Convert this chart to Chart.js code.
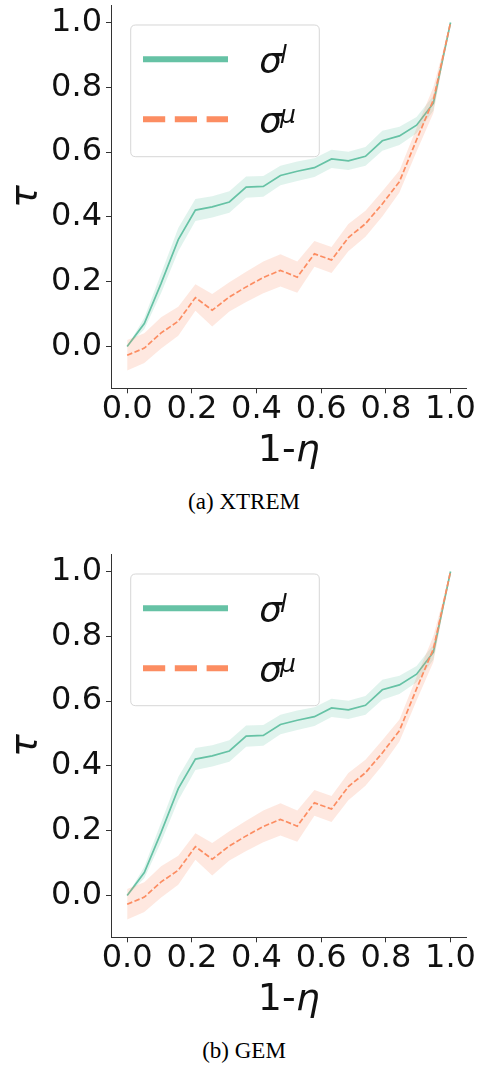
<!DOCTYPE html>
<html>
<head>
<meta charset="utf-8">
<script src="https://cdn.jsdelivr.net/npm/chart.js@4.4.1/dist/chart.umd.min.js"></script>
<style>
  html, body { margin: 0; padding: 0; background: #fff; overflow: hidden; }
  .panel { position: absolute; left: 0; width: 481px; height: 517px; }
  .plot { position: absolute; left: 0; top: 0; width: 481px; height: 475px; }
  .caption {
    position: absolute; left: 7px; width: 474px; top: 490px;
    text-align: center; font-family: "Liberation Serif", "Times New Roman", serif;
    font-size: 23px; line-height: 24px; color: #000;
  }
</style>
</head>
<body>
<div class="panel" style="top:0">
  <div class="plot"><canvas id="chartXtrem"></canvas></div>
  <div class="caption">(a) XTREM</div>
</div>
<div class="panel" style="top:549px">
  <div class="plot"><canvas id="chartGem"></canvas></div>
  <div class="caption">(b) GEM</div>
</div>
<script>
// 1 - eta (x positions of the 20 samples)
const oneMinusEta = [0.000, 0.053, 0.105, 0.158, 0.211, 0.263, 0.316, 0.368, 0.421, 0.474,
                     0.526, 0.579, 0.632, 0.684, 0.737, 0.789, 0.842, 0.895, 0.947, 1.000];

// tau for sigma^l (solid green) and its band half-width
const sigmaL    = [0.000, 0.071, 0.195, 0.330, 0.421, 0.431, 0.446, 0.492, 0.494, 0.528,
                   0.541, 0.552, 0.579, 0.573, 0.587, 0.635, 0.650, 0.683, 0.751, 1.000];
const sigmaLErr = [0.000, 0.018, 0.030, 0.036, 0.034, 0.033, 0.033, 0.033, 0.032, 0.030,
                   0.030, 0.029, 0.028, 0.028, 0.029, 0.031, 0.028, 0.025, 0.023, 0.000];

// tau for sigma^mu (dashed orange) and its band half-width
const sigmaMu    = [-0.027, -0.005, 0.042, 0.078, 0.151, 0.112, 0.153, 0.184, 0.213, 0.235,
                    0.214, 0.286, 0.267, 0.336, 0.379, 0.440, 0.509, 0.638, 0.761, 1.000];
const sigmaMuErr = [0.047, 0.046, 0.048, 0.045, 0.041, 0.050, 0.045, 0.047, 0.049, 0.050,
                    0.048, 0.040, 0.040, 0.042, 0.040, 0.039, 0.034, 0.036, 0.040, 0.000];

const xTicks = [0.0, 0.2, 0.4, 0.6, 0.8, 1.0];
const yTicks = [0.0, 0.2, 0.4, 0.6, 0.8, 1.0];

const legendNames = ['σ', 'σ'];
const legendSups = ['l', 'μ'];

const GREEN = '#66c2a5';
const ORANGE = '#fc8d62';
const GREEN_BAND = 'rgba(102,194,165,0.2)';
const ORANGE_BAND = 'rgba(252,141,98,0.2)';
const INK = '#111';
const AXIS = '#333';

function points(ys) {
    return ys.map((y, i) => ({ x: oneMinusEta[i], y: y }));
}

function offsetPoints(ys, errs, sign) {
    return ys.map((y, i) => ({ x: oneMinusEta[i], y: y + sign * errs[i] }));
}

function buildDatasets() {
    // index 0 is drawn last (on top)
    return [
        { data: points(sigmaMu), borderColor: ORANGE, borderWidth: 1.7, borderDash: [5.5, 2.4],
          pointRadius: 0, fill: false, tension: 0 },
        { data: offsetPoints(sigmaMu, sigmaMuErr, 1), borderWidth: 0, pointRadius: 0,
          fill: '+1', backgroundColor: ORANGE_BAND },
        { data: offsetPoints(sigmaMu, sigmaMuErr, -1), borderWidth: 0, pointRadius: 0, fill: false },
        { data: points(sigmaL), borderColor: GREEN, borderWidth: 1.7,
          pointRadius: 0, fill: false, tension: 0 },
        { data: offsetPoints(sigmaL, sigmaLErr, 1), borderWidth: 0, pointRadius: 0,
          fill: '+1', backgroundColor: GREEN_BAND },
        { data: offsetPoints(sigmaL, sigmaLErr, -1), borderWidth: 0, pointRadius: 0, fill: false }
    ];
}

// x title with mixed upright / italic text, and the matplotlib style legend
const mathText = {
    id: 'mathText',
    afterDraw(chart) {
        const ctx = chart.ctx;
        const ca = chart.chartArea;

        // x axis title "1-η"
        ctx.save();
        ctx.fillStyle = INK;
        ctx.textBaseline = 'alphabetic';
        ctx.textAlign = 'left';
        const upright = '38px "DejaVu Sans"';
        const italic = 'italic 38px "DejaVu Sans"';
        ctx.font = upright;
        const w1 = ctx.measureText('1-').width;
        ctx.font = italic;
        const w2 = ctx.measureText('η').width;
        const cx = (ca.left + ca.right) / 2;
        const base = ca.bottom + 72.7;
        ctx.font = upright;
        ctx.fillText('1-', cx - (w1 + w2) / 2, base);
        ctx.font = italic;
        ctx.fillText('η', cx - (w1 + w2) / 2 + w1, base);
        ctx.restore();

        // legend
        const bx = ca.left + 19.7, by = ca.top + 20, bw = 188.6, bh = 131.7, r = 5;
        ctx.save();
        ctx.beginPath();
        ctx.moveTo(bx + r, by);
        ctx.lineTo(bx + bw - r, by);
        ctx.quadraticCurveTo(bx + bw, by, bx + bw, by + r);
        ctx.lineTo(bx + bw, by + bh - r);
        ctx.quadraticCurveTo(bx + bw, by + bh, bx + bw - r, by + bh);
        ctx.lineTo(bx + r, by + bh);
        ctx.quadraticCurveTo(bx, by + bh, bx, by + bh - r);
        ctx.lineTo(bx, by + r);
        ctx.quadraticCurveTo(bx, by, bx + r, by);
        ctx.closePath();
        ctx.fillStyle = 'rgba(255,255,255,0.8)';
        ctx.fill();
        ctx.strokeStyle = 'rgba(204,204,204,0.8)';
        ctx.lineWidth = 1;
        ctx.stroke();

        const rows = [
            { color: GREEN, dash: [] },
            { color: ORANGE, dash: [22.2, 9.6] }
        ];
        rows.forEach((row, i) => {
            const ly = by + 34.3 + i * 60;
            ctx.beginPath();
            ctx.setLineDash(row.dash);
            ctx.lineCap = 'butt';
            ctx.strokeStyle = row.color;
            ctx.lineWidth = 6;
            ctx.moveTo(bx + 12.3, ly);
            ctx.lineTo(bx + 97.3, ly);
            ctx.stroke();
            ctx.setLineDash([]);

            const tx = bx + 128.6;
            const tb = ly + 14;
            ctx.fillStyle = INK;
            ctx.font = 'italic 36px "DejaVu Sans"';
            ctx.fillText(legendNames[i], tx, tb);
            const sw = ctx.measureText(legendNames[i]).width;
            ctx.font = 'italic 25px "DejaVu Sans"';
            ctx.fillText(legendSups[i], tx + sw - 2, tb - 10.5);
        });
        ctx.restore();
    }
};

function makeChart(canvasId) {
    const ctx = document.getElementById(canvasId).getContext('2d');
    return new Chart(ctx, {
        type: 'line',
        data: { datasets: buildDatasets() },
        options: {
            responsive: true,
            maintainAspectRatio: false,
            animation: false,
            layout: { padding: { top: 5, right: 14.3, left: 0, bottom: 0 } },
            plugins: {
                legend: { display: false },
                tooltip: { enabled: false }
            },
            scales: {
                x: {
                    type: 'linear',
                    min: -0.05,
                    max: 1.05,
                    afterBuildTicks: s => { s.ticks = xTicks.map(v => ({ value: v })); },
                    afterFit: s => { s.height = 86.7; s.paddingLeft = 0; s.paddingRight = 0; },
                    grid: { drawOnChartArea: false, tickLength: 5, tickColor: AXIS, tickWidth: 1 },
                    border: { display: true, color: AXIS, width: 1 },
                    ticks: {
                        maxRotation: 0,
                        autoSkip: false,
                        padding: 0,
                        color: INK,
                        font: { family: 'DejaVu Sans', size: 32, lineHeight: 1 },
                        callback: v => v.toFixed(1)
                    }
                },
                y: {
                    type: 'linear',
                    min: -0.129,
                    max: 1.054,
                    afterBuildTicks: s => { s.ticks = yTicks.map(v => ({ value: v })); },
                    afterFit: s => { s.width = 111; s.paddingTop = 0; s.paddingBottom = 0; },
                    grid: { drawOnChartArea: false, tickLength: 5, tickColor: AXIS, tickWidth: 1 },
                    border: { display: true, color: AXIS, width: 1 },
                    title: {
                        display: true,
                        text: 'τ',
                        color: INK,
                        padding: { top: 3, bottom: 0 },
                        font: { family: 'DejaVu Sans', size: 38, style: 'italic' }
                    },
                    ticks: {
                        autoSkip: false,
                        padding: 4,
                        color: INK,
                        font: { family: 'DejaVu Sans', size: 32 },
                        callback: v => v.toFixed(1)
                    }
                }
            }
        },
        plugins: [mathText]
    });
}

makeChart('chartXtrem');
makeChart('chartGem');
</script>
</body>
</html>
